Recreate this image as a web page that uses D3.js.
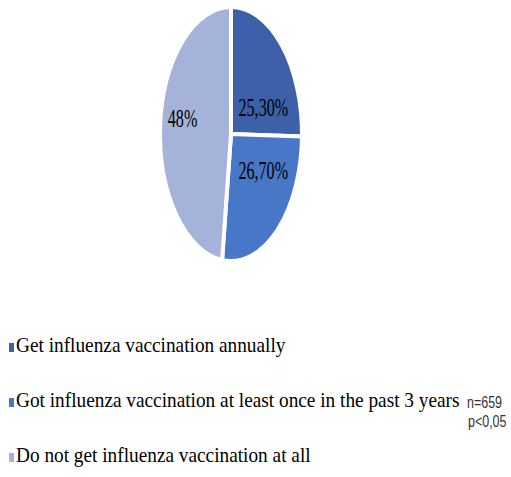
<!DOCTYPE html>
<html>
<head>
<meta charset="utf-8">
<script src="https://cdn.jsdelivr.net/npm/d3@7/dist/d3.min.js"></script>
<style>
  html, body { margin: 0; padding: 0; background: #ffffff; }
  svg { display: block; font-family: "Liberation Serif"; }
  svg text { font-family: "Liberation Serif"; }
  svg text.note { font-family: "Liberation Sans"; }
</style>
</head>
<body>
<script>
// Influenza vaccination status of respondents
const categories = [
  "Get influenza vaccination annually",
  "Got influenza vaccination at least once in the past 3 years",
  "Do not get influenza vaccination at all"
];
const shares = [25.3, 26.7, 48];
const shareLabels = ["25,30%", "26,70%", "48%"];
const notes = ["n=659", "p<0,05"];

const colors = ["#3d60a8", "#4877c8", "#a5b3da"];

const W = 511, H = 477;
const svg = d3.select("body").append("svg")
  .attr("width", W).attr("height", H)
  .attr("font-family", "Liberation Serif");

// Pie is drawn as a circle and squeezed horizontally into an ellipse
const cx = 231, cy = 134, ry = 127, rx = 71;
const sx = rx / ry;

const pie = d3.pie().sort(null).value(d => d);
const arcs = pie(shares);
const arc = d3.arc().innerRadius(0).outerRadius(ry);

const pieG = svg.append("g")
  .attr("transform", `translate(${cx},${cy}) scale(${sx},1)`);

pieG.selectAll("path")
  .data(arcs)
  .join("path")
  .attr("d", arc)
  .attr("fill", (d, i) => colors[i])
  .attr("stroke", "#ffffff")
  .attr("stroke-width", 4)
  .attr("vector-effect", "non-scaling-stroke");

// Value labels: arc centroid, shifted to where each label sits inside its slice
const labelShift = [[7, 26], [9, -3], [-13, -3]];
const labelG = svg.append("g");
arcs.forEach((d, i) => {
  const c = arc.centroid(d);
  const x = cx + c[0] * sx + labelShift[i][0];
  const y = cy + c[1] + labelShift[i][1];
  labelG.append("g")
    .attr("transform", `translate(${x},${y})`)
    .append("text")
    .attr("transform", "scale(0.62,1)")
    .attr("text-anchor", "middle")
    .attr("font-size", 26)
    .style("font-family", "\"Liberation Serif\"")
    .text(shareLabels[i]);
});

// Legend
const legendY = d3.scalePoint()
  .domain(categories)
  .range([352, 462]);

const legend = svg.append("g").selectAll("g")
  .data(categories)
  .join("g")
  .attr("transform", d => `translate(0,${legendY(d)})`);

legend.append("rect")
  .attr("x", 9).attr("y", -9)
  .attr("width", 5).attr("height", 9)
  .attr("fill", (d, i) => colors[i]);

legend.append("g")
  .attr("transform", "translate(16,0)")
  .append("text")
  .attr("transform", "scale(0.877,1)")
  .attr("font-size", 22)
  .style("font-family", "\"Liberation Serif\"")
  .text(d => d);

// Sample size and significance note
svg.append("g").selectAll("g")
  .data(notes)
  .join("g")
  .attr("transform", (d, i) => `translate(${i === 0 ? 467 : 468},${408 + i * 19})`)
  .append("text")
  .attr("class", "note")
  .attr("transform", "scale(0.78,1)")
  .attr("font-size", 16)
  .attr("fill", "#333333")
  .style("font-family", "\"Liberation Sans\"")
  .text(d => d);
</script>
</body>
</html>
